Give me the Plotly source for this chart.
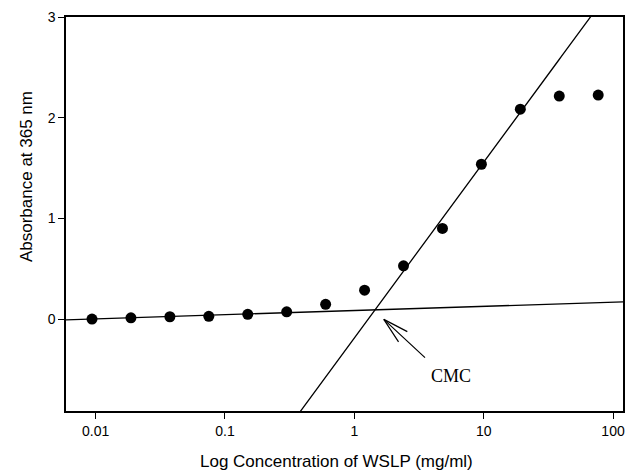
import numpy as np
import plotly.graph_objects as go

# ---- data ----
conc = [0.009375, 0.01875, 0.0375, 0.075, 0.15, 0.3, 0.6, 1.2, 2.4, 4.8, 9.6, 19.2, 38.4, 76.8]
absorb = [0.003, 0.016, 0.026, 0.03, 0.05, 0.075, 0.149, 0.29, 0.531, 0.902, 1.539, 2.085, 2.215, 2.225]

# linear fits in log10(concentration): y = intercept + slope * log10(x)
baseline_fit = [0.088, 0.0413]     # intercept, slope (pre-micellar region)
steep_fit = [-0.185, 1.745]        # intercept, slope (post-CMC region)

x_ticks = [0.01, 0.1, 1, 10, 100]
x_tick_labels = ["0.01", "0.1", "1", "10", "100"]
y_ticks = [0, 1, 2, 3]
y_tick_labels = ["0", "1", "2", "3"]

x_log_range = [-2.229, 2.077]
y_range = [-0.909, 3.0]

cmc_point = [1.69, 0.0]  # arrow tip (x, y)

# ---- lines across the axis range ----
fit_x = np.logspace(x_log_range[0], x_log_range[1], 200)
base_y = baseline_fit[0] + baseline_fit[1] * np.log10(fit_x)
steep_y = steep_fit[0] + steep_fit[1] * np.log10(fit_x)

fig = go.Figure()
fig.add_trace(go.Scatter(x=fit_x, y=base_y, mode="lines",
                         line=dict(color="black", width=1.3), hoverinfo="skip"))
fig.add_trace(go.Scatter(x=fit_x, y=steep_y, mode="lines",
                         line=dict(color="black", width=1.3), hoverinfo="skip"))
fig.add_trace(go.Scatter(x=conc, y=absorb, mode="markers",
                         marker=dict(color="black", size=11, line=dict(width=0))))

font_sans = "Liberation Sans, Arial, sans-serif"

fig.update_layout(
    width=627, height=475,
    margin=dict(l=66, r=2, t=17, b=64),
    paper_bgcolor="white", plot_bgcolor="white",
    showlegend=False,
    font=dict(family=font_sans, size=14, color="black"),
    xaxis=dict(type="log", range=x_log_range, tickvals=x_ticks, ticktext=x_tick_labels,
               ticks="outside", ticklen=6, tickwidth=1.3, tickcolor="black",
               showline=True, linecolor="black", linewidth=1.5, mirror=True,
               showgrid=False, zeroline=False,
               tickfont=dict(family=font_sans, size=14, color="black")),
    yaxis=dict(range=y_range, tickvals=y_ticks, ticktext=y_tick_labels,
               ticks="outside", ticklen=6, tickwidth=1.3, tickcolor="black",
               showline=True, linecolor="black", linewidth=1.5, mirror=True,
               showgrid=False, zeroline=False,
               tickfont=dict(family=font_sans, size=14, color="black")),
)

annotations = [
    # axis titles
    dict(text="Log Concentration of WSLP (mg/ml)", xref="paper", yref="paper",
         x=0.485, y=-0.127, xanchor="center", yanchor="middle", showarrow=False,
         font=dict(family=font_sans, size=17, color="black")),
    dict(text="Absorbance at 365 nm", xref="paper", yref="paper",
         x=-0.072, y=0.596, xanchor="center", yanchor="middle", textangle=-90,
         showarrow=False, font=dict(family=font_sans, size=17, color="black")),
    # CMC label
    dict(text="CMC", x=np.log10(cmc_point[0]), y=cmc_point[1], xref="x", yref="y",
         showarrow=True, ax=66.7, ay=56.4, arrowcolor="rgba(0,0,0,0)", arrowwidth=0.1,
         arrowhead=0, font=dict(family="Liberation Serif, Times New Roman, serif", size=18,
                                color="black")),
    # arrow shaft
    dict(text="", x=np.log10(cmc_point[0]), y=cmc_point[1], xref="x", yref="y",
         showarrow=True, ax=42.7, ay=39.7, arrowhead=0, arrowwidth=1.2, arrowcolor="black"),
    # arrow barbs
    dict(text="", x=np.log10(cmc_point[0]), y=cmc_point[1], xref="x", yref="y",
         showarrow=True, ax=25, ay=13, arrowhead=0, arrowwidth=1.2, arrowcolor="black"),
    dict(text="", x=np.log10(cmc_point[0]), y=cmc_point[1], xref="x", yref="y",
         showarrow=True, ax=15.7, ay=24, arrowhead=0, arrowwidth=1.2, arrowcolor="black"),
]
fig.update_layout(annotations=annotations)

# remove the browser's default body margin so the figure sits at the window origin
fig.write_html("out.html",
               config={"displayModeBar": False},
               post_script="document.body.style.margin='0';document.body.style.overflow='hidden';")
